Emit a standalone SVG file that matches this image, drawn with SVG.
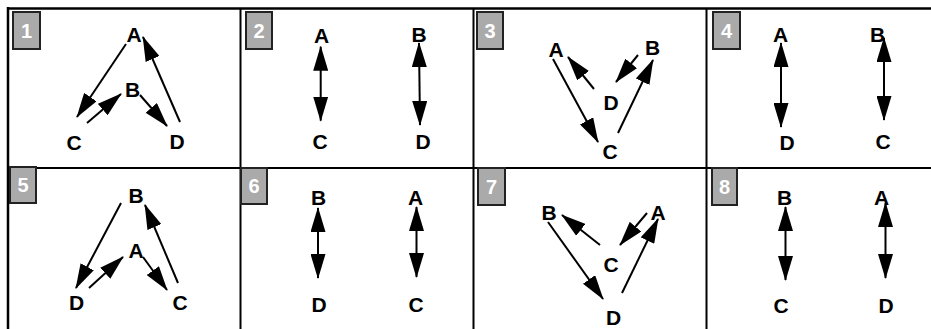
<svg xmlns="http://www.w3.org/2000/svg" width="931" height="329" viewBox="0 0 931 329">
<style>
.frame{stroke:#000;fill:none}
.lbl{fill:#aaaaaa;stroke:#222;stroke-width:2}
.num{font-family:"Liberation Sans",Arial,sans-serif;font-weight:bold;font-size:20px;fill:#fff;text-anchor:middle}
.nd{font-family:"Liberation Sans",Arial,sans-serif;font-weight:bold;font-size:21px;fill:#000;text-anchor:middle}
.ar{stroke:#000;stroke-width:2;fill:none;marker-end:url(#ah)}
.dbl{stroke:#000;stroke-width:2;fill:none;marker-end:url(#ah);marker-start:url(#ah)}
</style>
<defs>
<marker id="ah" viewBox="0 0 25 15" refX="24" refY="7.5" markerWidth="25" markerHeight="15" markerUnits="userSpaceOnUse" orient="auto-start-reverse">
<path d="M0,0 L25,7.5 L0,15 z" fill="#000"/>
</marker>
</defs>
<rect width="931" height="329" fill="#fff"/>
<g id="grid" class="frame">
<line x1="7" y1="8.5" x2="931" y2="8.5" stroke-width="2.5"/>
<line x1="8" y1="7" x2="8" y2="329" stroke-width="2.5"/>
<line x1="8" y1="168" x2="931" y2="168" stroke-width="2"/>
<line x1="240.5" y1="8" x2="240.5" y2="329" stroke-width="2"/>
<line x1="473.5" y1="8" x2="473.5" y2="329" stroke-width="2"/>
<line x1="706.5" y1="8" x2="706.5" y2="329" stroke-width="2"/>
</g>
<g id="labels">
<g id="label1"><rect class="lbl" x="13" y="12" width="27" height="37"/><text class="num" x="26.5" y="37.5">1</text></g>
<g id="label2"><rect class="lbl" x="246" y="12" width="26" height="37"/><text class="num" x="259" y="37.5">2</text></g>
<g id="label3"><rect class="lbl" x="477" y="12" width="26" height="37"/><text class="num" x="490" y="37.5">3</text></g>
<g id="label4"><rect class="lbl" x="713" y="12" width="27" height="37"/><text class="num" x="726.5" y="37.5">4</text></g>
<g id="label5"><rect class="lbl" x="10" y="167" width="26" height="36"/><text class="num" x="23" y="192">5</text></g>
<g id="label6"><rect class="lbl" x="241" y="168" width="26" height="36"/><text class="num" x="254" y="193">6</text></g>
<g id="label7"><rect class="lbl" x="478" y="168" width="27" height="37"/><text class="num" x="491.5" y="193.5">7</text></g>
<g id="label8"><rect class="lbl" x="712" y="168" width="25" height="37"/><text class="num" x="724.5" y="193.5">8</text></g>
</g>
<g id="connectors">
<line class="ar" x1="126" y1="44" x2="77" y2="117"/>
<line class="ar" x1="87" y1="123" x2="121" y2="94"/>
<line class="ar" x1="140" y1="95" x2="167" y2="126"/>
<line class="ar" x1="180" y1="122" x2="143" y2="37"/>
<line class="dbl" x1="320.7" y1="46.7" x2="320.7" y2="120.7"/>
<line class="dbl" x1="419" y1="43" x2="420" y2="125"/>
<line class="ar" x1="553" y1="59" x2="598" y2="142"/>
<line class="ar" x1="594" y1="89" x2="568" y2="57"/>
<line class="ar" x1="638" y1="55" x2="616" y2="82"/>
<line class="ar" x1="618" y1="133" x2="653" y2="60"/>
<line class="dbl" x1="781" y1="43" x2="781" y2="127"/>
<line class="dbl" x1="884" y1="38" x2="884" y2="120"/>
<line class="ar" x1="121" y1="203" x2="76" y2="288"/>
<line class="ar" x1="89" y1="288" x2="123" y2="257"/>
<line class="ar" x1="143" y1="257" x2="167" y2="290"/>
<line class="ar" x1="178" y1="283" x2="145" y2="205"/>
<line class="dbl" x1="318" y1="208" x2="318" y2="278"/>
<line class="dbl" x1="416.5" y1="207" x2="416.5" y2="277"/>
<line class="ar" x1="548" y1="222" x2="603" y2="299"/>
<line class="ar" x1="600" y1="245" x2="562" y2="215"/>
<line class="ar" x1="647" y1="213" x2="620" y2="245"/>
<line class="ar" x1="622" y1="293" x2="658" y2="219"/>
<line class="dbl" x1="785.5" y1="207" x2="785.5" y2="280"/>
<line class="dbl" x1="885.5" y1="203" x2="885.5" y2="278"/>
</g>
<g id="p1-A"><text class="nd" x="134" y="42">A</text></g>
<g id="p1-B"><text class="nd" x="132.5" y="97">B</text></g>
<g id="p1-C"><text class="nd" x="74" y="150">C</text></g>
<g id="p1-D"><text class="nd" x="177" y="149">D</text></g>
<g id="p2-A"><text class="nd" x="321.5" y="42.5">A</text></g>
<g id="p2-B"><text class="nd" x="419" y="42">B</text></g>
<g id="p2-C"><text class="nd" x="320" y="149">C</text></g>
<g id="p2-D"><text class="nd" x="423" y="149">D</text></g>
<g id="p3-A"><text class="nd" x="556" y="56.5">A</text></g>
<g id="p3-B"><text class="nd" x="652.5" y="55">B</text></g>
<g id="p3-C"><text class="nd" x="610" y="159">C</text></g>
<g id="p3-D"><text class="nd" x="611" y="110">D</text></g>
<g id="p4-A"><text class="nd" x="780.5" y="41.5">A</text></g>
<g id="p4-B"><text class="nd" x="877.5" y="41.5">B</text></g>
<g id="p4-C"><text class="nd" x="883" y="149">C</text></g>
<g id="p4-D"><text class="nd" x="787" y="150">D</text></g>
<g id="p5-A"><text class="nd" x="136" y="258">A</text></g>
<g id="p5-B"><text class="nd" x="136" y="203">B</text></g>
<g id="p5-C"><text class="nd" x="180" y="310">C</text></g>
<g id="p5-D"><text class="nd" x="76.5" y="310">D</text></g>
<g id="p6-A"><text class="nd" x="415.5" y="205">A</text></g>
<g id="p6-B"><text class="nd" x="318.5" y="205">B</text></g>
<g id="p6-C"><text class="nd" x="416" y="311.5">C</text></g>
<g id="p6-D"><text class="nd" x="319" y="311.5">D</text></g>
<g id="p7-A"><text class="nd" x="658" y="220">A</text></g>
<g id="p7-B"><text class="nd" x="549" y="220">B</text></g>
<g id="p7-C"><text class="nd" x="611" y="271.5">C</text></g>
<g id="p7-D"><text class="nd" x="613.5" y="325">D</text></g>
<g id="p8-A"><text class="nd" x="881.5" y="205">A</text></g>
<g id="p8-B"><text class="nd" x="784.5" y="205">B</text></g>
<g id="p8-C"><text class="nd" x="781" y="312.5">C</text></g>
<g id="p8-D"><text class="nd" x="886" y="312.5">D</text></g>
</svg>
